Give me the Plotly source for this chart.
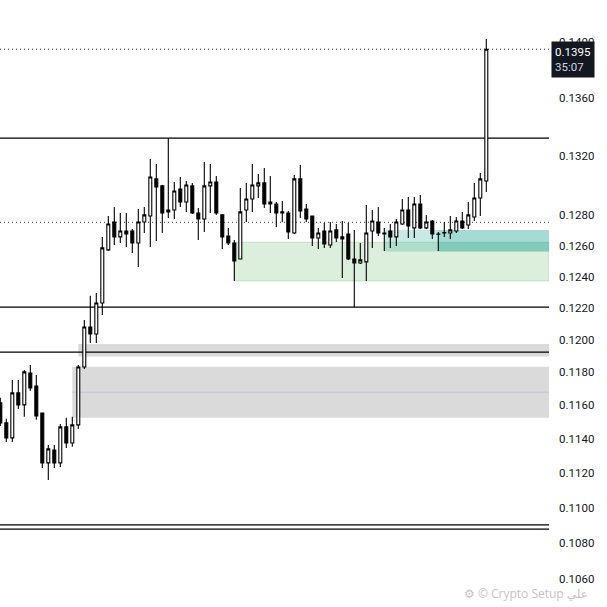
import numpy as np
import plotly.graph_objects as go

# velas (precio)
open_ = [0.11614, 0.11494, 0.11405, 0.11674, 0.11602, 0.11795, 0.11716, 0.11553, 0.11258, 0.11334,
         0.11258, 0.1147, 0.11375, 0.11482, 0.11832, 0.1208, 0.12036, 0.12231, 0.12572, 0.12755,
         0.12657, 0.12696, 0.12696, 0.12617, 0.12755, 0.12795, 0.13043, 0.12996, 0.12822, 0.12835,
         0.12975, 0.12888, 0.12996, 0.12815, 0.12775, 0.12996, 0.13022, 0.12802, 0.12663, 0.12617,
         0.12513, 0.12835, 0.12908, 0.12996, 0.13016, 0.12875, 0.12875, 0.12822, 0.12815, 0.12683,
         0.13043, 0.12841, 0.12795, 0.1265, 0.12696, 0.12604, 0.12703, 0.12643, 0.12676, 0.12513,
         0.12487, 0.12494, 0.12696, 0.12755, 0.12683, 0.12696, 0.12657, 0.12742, 0.12835, 0.12716,
         0.12875, 0.12716, 0.12762, 0.12676, 0.12683, 0.12683, 0.12696, 0.12762, 0.12735, 0.12788,
         0.12915, 0.13029]
high = [0.11644, 0.11518, 0.11753, 0.11753, 0.11814, 0.11844, 0.11783, 0.11555, 0.11363, 0.11363,
        0.11488, 0.11524, 0.1153, 0.11844, 0.12124, 0.12276, 0.12295, 0.12657, 0.12795, 0.12855,
        0.12815, 0.12815, 0.12709, 0.12841, 0.12855, 0.13179, 0.13145, 0.13002, 0.1332, 0.13022,
        0.13056, 0.13029, 0.13016, 0.12848, 0.13158, 0.13145, 0.13063, 0.12808, 0.12716, 0.12637,
        0.12982, 0.13016, 0.13145, 0.13077, 0.13117, 0.13063, 0.12888, 0.12895, 0.12828, 0.1307,
        0.13138, 0.12875, 0.12795, 0.12716, 0.12749, 0.12755, 0.12742, 0.12762, 0.12749, 0.12703,
        0.12617, 0.12868, 0.12835, 0.12855, 0.12716, 0.12742, 0.12775, 0.12908, 0.12922, 0.12922,
        0.12935, 0.12802, 0.12769, 0.12689, 0.12755, 0.12795, 0.12788, 0.12822, 0.12888, 0.13016,
        0.13083, 0.14024]
low = [0.11476, 0.11381, 0.11381, 0.11577, 0.1153, 0.11686, 0.11512, 0.11229, 0.11159, 0.11229,
       0.11234, 0.11346, 0.11352, 0.11458, 0.1182, 0.1198, 0.1198, 0.12155, 0.12565, 0.12604,
       0.12617, 0.12591, 0.12552, 0.12461, 0.12683, 0.12591, 0.1263, 0.12683, 0.12782, 0.12775,
       0.12855, 0.12822, 0.12808, 0.12637, 0.12689, 0.12815, 0.12802, 0.12578, 0.12604, 0.12371,
       0.12512, 0.12755, 0.12822, 0.12915, 0.12848, 0.12815, 0.12722, 0.12755, 0.12643, 0.12676,
       0.12782, 0.12755, 0.12598, 0.12578, 0.12585, 0.12585, 0.12624, 0.12391, 0.12507, 0.12204,
       0.12481, 0.12371, 0.12585, 0.12663, 0.12565, 0.12585, 0.12598, 0.12735, 0.1265, 0.1265,
       0.12709, 0.12709, 0.12643, 0.12565, 0.12657, 0.12643, 0.12683, 0.12709, 0.12709, 0.12762,
       0.12795, 0.12955]
close = [0.11494, 0.11405, 0.11674, 0.11602, 0.11802, 0.11704, 0.11536, 0.11258, 0.1134, 0.11258,
         0.1147, 0.11375, 0.11482, 0.11832, 0.1208, 0.12036, 0.12231, 0.12585, 0.12742, 0.12657,
         0.12696, 0.12676, 0.12617, 0.12755, 0.12802, 0.13056, 0.12989, 0.12815, 0.12835, 0.12962,
         0.12888, 0.13002, 0.12815, 0.12775, 0.12996, 0.13022, 0.12815, 0.12657, 0.12617, 0.125,
         0.12822, 0.12908, 0.13002, 0.13016, 0.12875, 0.12888, 0.12815, 0.12815, 0.12689, 0.13043,
         0.12828, 0.12775, 0.1265, 0.12683, 0.12611, 0.12696, 0.1265, 0.12657, 0.12513, 0.12487,
         0.12507, 0.12683, 0.12762, 0.12683, 0.12676, 0.12657, 0.12755, 0.12835, 0.12729, 0.12875,
         0.12716, 0.12755, 0.12676, 0.12674, 0.12685, 0.12703, 0.12762, 0.12716, 0.12802, 0.12915,
         0.13043, 0.1395]
idx = list(range(len(close)))

# niveles horizontales
lineas = [0.13321, 0.12204, 0.11923, 0.10902, 0.10878]
punteadas = [0.1395, 0.12753]

# zonas: (vela inicio, precio bajo, precio alto)
zonas_grises = [(13, 0.11896, 0.11974), (12, 0.11525, 0.11834)]
media_gris = (12, 0.11678)
zona_verde = (39, 0.12371, 0.12622)
zonas_teal = [(64, 0.12561, 0.12703), (73, 0.12561, 0.12703), (73, 0.12561, 0.12622)]

ticks = [0.106, 0.108, 0.110, 0.112, 0.114, 0.116, 0.118, 0.120, 0.122, 0.124,
         0.126, 0.128, 0.132, 0.136, 0.140]

precio_actual = "0.1395"
tiempo = "35:07"

xmin, xmax = -0.05, 91.45

fig = go.Figure()
fig.add_trace(go.Candlestick(
    x=idx, open=open_, high=high, low=low, close=close,
    increasing=dict(line=dict(color="black", width=1.1), fillcolor="white"),
    decreasing=dict(line=dict(color="black", width=1.1), fillcolor="black"),
    showlegend=False, hoverinfo="skip"))

shapes = []
for x0, lo, hi in zonas_grises:
    shapes.append(dict(type="rect", xref="x", yref="y", x0=x0, x1=xmax, y0=lo, y1=hi,
                       fillcolor="#dadada", line=dict(width=0), layer="below"))
shapes.append(dict(type="line", xref="x", yref="y", x0=media_gris[0], x1=xmax,
                   y0=media_gris[1], y1=media_gris[1],
                   line=dict(color="#cbbfd6", width=1), layer="below"))
shapes.append(dict(type="rect", xref="x", yref="y", x0=zona_verde[0], x1=xmax,
                   y0=zona_verde[1], y1=zona_verde[2],
                   fillcolor="rgba(76,175,80,0.2)", line=dict(color="rgba(76,175,80,0.25)", width=1),
                   layer="below"))
alphas = [0.25, 0.22, 0.12]
for (x0, lo, hi), a in zip(zonas_teal, alphas):
    shapes.append(dict(type="rect", xref="x", yref="y", x0=x0, x1=xmax, y0=lo, y1=hi,
                       fillcolor=f"rgba(38,166,154,{a})", line=dict(width=0), layer="below"))
# lineas en el mismo plano que las zonas, para que queden encima
for y in lineas:
    shapes.append(dict(type="line", xref="x", yref="y", x0=xmin, x1=xmax, y0=y, y1=y,
                       line=dict(color="black", width=1.2), layer="below"))
for y in punteadas:
    shapes.append(dict(type="line", xref="x", yref="y", x0=xmin, x1=xmax, y0=y, y1=y,
                       line=dict(color="#333333", width=1, dash="1px,3px"), layer="below"))

fig.update_layout(
    width=607, height=607,
    margin=dict(l=0, r=58, t=0, b=0),
    paper_bgcolor="white", plot_bgcolor="white",
    shapes=shapes,
    xaxis=dict(visible=False, range=[xmin, xmax], rangeslider=dict(visible=False)),
    yaxis=dict(type="log", side="right",
               range=[np.log10(0.10448), np.log10(0.143102)],
               tickvals=ticks, ticktext=[f"{t:.4f}" for t in ticks],
               showgrid=False, zeroline=False, showline=False, ticks="",
               ticklabelstandoff=9,
               tickfont=dict(family="Roboto", size=11.5, color="#131722")),
    annotations=[
        dict(xref="paper", yref="paper", x=1.003, y=1 - 41 / 607, xanchor="left", yanchor="top",
             text=f"{precio_actual}<br><span style='color:#d1d4dc'>{tiempo}</span>",
             showarrow=False, align="left", bgcolor="#131722", borderpad=3,
             font=dict(family="Roboto", size=11.5, color="white")),
        dict(xref="paper", yref="paper", x=590 / 549, y=1 - 593 / 607, xanchor="right",
             yanchor="middle", text="⚙ © Crypto Setup علي", showarrow=False,
             font=dict(family="Open Sans, DejaVu Sans", size=12, color="#c4c4c4")),
    ],
)

# sin margen del body para que el grafico quede en (0, 0)
fig.write_html("out.html", config={"displayModeBar": False},
               post_script="document.body.style.margin='0';")
